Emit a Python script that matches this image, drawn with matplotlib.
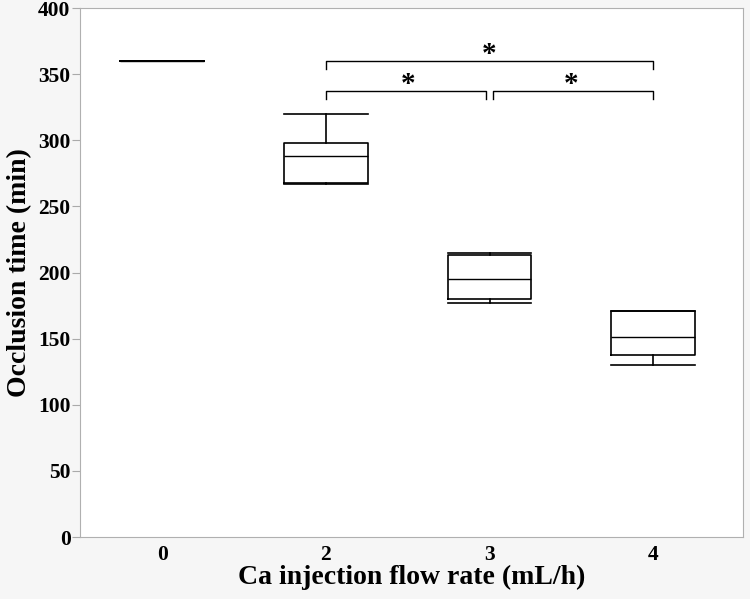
import matplotlib.pyplot as plt

# data
categories = ['0', '2', '3', '4']
whislo = [360, 267, 177, 130]
q1 = [360, 268, 180, 138]
med = [360, 288, 195, 151]
q3 = [360, 298, 213, 171]
whishi = [360, 320, 215, 171]

# significance brackets: (left index, right index, height)
brackets = [(1, 3, 360), (1, 2, 337), (2, 3, 337)]

plt.rcParams['font.family'] = ['Liberation Serif', 'DejaVu Serif']
plt.rcParams['font.weight'] = 'bold'

fig = plt.figure(figsize=(7.5, 5.99), dpi=100)
fig.patch.set_facecolor('#f6f6f6')
ax = fig.add_axes([0.107, 0.1035, 0.884, 0.883])
ax.set_facecolor('white')

stats = []
for i in range(len(categories)):
    stats.append({'whislo': whislo[i], 'q1': q1[i], 'med': med[i],
                  'q3': q3[i], 'whishi': whishi[i], 'fliers': []})

pos = list(range(len(categories)))
ax.bxp(stats, positions=pos, widths=0.51, capwidths=0.51, showfliers=False,
       boxprops=dict(color='black', linewidth=1.2),
       medianprops=dict(color='black', linewidth=1.0),
       whiskerprops=dict(color='black', linewidth=1.2),
       capprops=dict(color='black', linewidth=1.2))

gap = 0.02
for a, b, h in brackets:
    xa = a + (gap if a == 2 else 0)
    xb = b - (gap if b == 2 else 0)
    ax.plot([xa, xa, xb, xb], [h - 6, h, h, h - 6], color='black', lw=1.0)
    ax.text((a + b) / 2, h - 5, '*', ha='center', va='bottom', fontsize=21)

ax.set_xlim(-0.5, 3.55)
ax.set_ylim(0, 400)
ax.set_yticks(range(0, 401, 50))
ax.set_xticks(pos)
ax.set_xticklabels(categories)
ax.tick_params(axis='both', labelsize=15.5, colors='#aaaaaa', labelcolor='black')
ax.tick_params(axis='x', length=0, pad=6)
ax.tick_params(axis='y', length=6, pad=1)
for s in ax.spines.values():
    s.set_color('#b0b0b0')

ax.set_xlabel('Ca injection flow rate (mL/h)', fontsize=20, fontweight='bold', labelpad=0)
ax.set_ylabel('Occlusion time (min)', fontsize=20, fontweight='bold', labelpad=4)

fig.savefig('out.png', dpi=100, facecolor=fig.get_facecolor())
